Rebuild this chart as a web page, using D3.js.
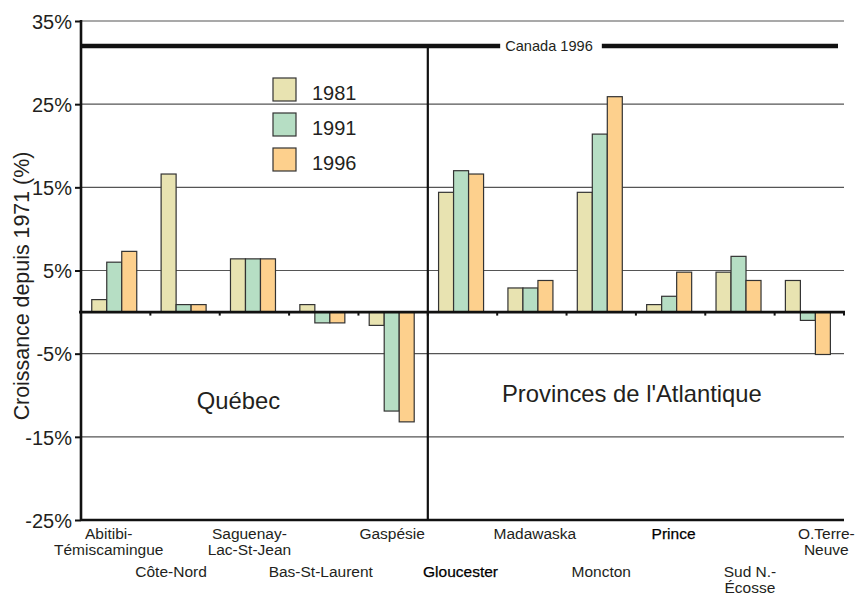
<!DOCTYPE html>
<html>
<head>
<meta charset="utf-8">
<script src="https://cdn.jsdelivr.net/npm/d3@7"></script>
<style>
  html, body { margin: 0; padding: 0; background: #fff; }
  svg { display: block; font-family: "Liberation Sans", Arial, sans-serif; }
</style>
</head>
<body>
<svg id="chart" width="859" height="596"></svg>
<script>
// ---- data ----
const categories = ["Abitibi-\nTémiscamingue", "Côte-Nord", "Saguenay-\nLac-St-Jean", "Bas-St-Laurent", "Gaspésie",
                    "Gloucester", "Madawaska", "Moncton", "Prince", "Sud N.-\nÉcosse", "O.Terre-\nNeuve"];
const seriesNames = ["1981", "1991", "1996"];
const v1981 = [1.5, 16.6, 6.4, 0.9, -1.6, 14.4, 2.9, 14.4, 0.9, 4.8, 3.8];
const v1991 = [6.0, 0.9, 6.4, -1.3, -11.9, 17.0, 2.9, 21.4, 1.9, 6.7, -1.0];
const v1996 = [7.3, 0.9, 6.4, -1.3, -13.2, 16.6, 3.8, 25.9, 4.8, 3.8, -5.1];
const canada1996 = 32;
const canadaLabel = "Canada 1996";
const yTicks = [35, 25, 15, 5, -5, -15, -25];
const regionNames = ["Québec", "Provinces de l'Atlantique"];
const yTitle = "Croissance depuis 1971 (%)";

// ---- layout ----
const colors = ["#E8E3B1", "#B6DEC4", "#FDD08D"];
const ink = "#231f20";
const pL = 81, pR = 844, pT = 21, pB = 520;
const labelNudge = [-7, -14, -5, -3, -1, -2, 3, 0, 3, 10, 17];
const boldLabels = ["Gloucester", "Prince"];

const svg = d3.select("#chart");
const y = d3.scaleLinear().domain([-25, 35]).range([pB, pT]);
const x0 = d3.scaleBand().domain(d3.range(categories.length)).range([pL, pR]).padding(0);
const bw = x0.bandwidth();
const x1 = d3.scaleBand().domain(seriesNames).range([bw * 0.155, bw * 0.155 + 45]).padding(0);

const series = [v1981, v1991, v1996];

// gridlines
svg.append("g").selectAll("line").data(yTicks.filter(t => t !== -25)).join("line")
  .attr("x1", pL).attr("x2", pR)
  .attr("y1", d => y(d)).attr("y2", d => y(d))
  .attr("stroke", "#555").attr("stroke-width", 1.1);

// bars
const groups = svg.append("g").selectAll("g").data(categories).join("g")
  .attr("transform", (d, i) => `translate(${x0(i)},0)`);
groups.selectAll("rect").data((d, i) => series.map((s, k) => ({k, v: s[i]}))).join("rect")
  .attr("x", d => x1(seriesNames[d.k]))
  .attr("width", x1.bandwidth())
  .attr("y", d => y(Math.max(0, d.v)))
  .attr("height", d => Math.abs(y(d.v) - y(0)))
  .attr("fill", d => colors[d.k])
  .attr("stroke", "#333").attr("stroke-width", 1.2);

// zero line with small ticks
svg.append("line").attr("x1", pL - 2).attr("x2", pR + 1)
  .attr("y1", y(0)).attr("y2", y(0)).attr("stroke", "#111").attr("stroke-width", 2.6);
svg.append("g").selectAll("line").data(d3.range(1, categories.length + 1)).join("line")
  .attr("x1", i => x0(0) + i * bw).attr("x2", i => x0(0) + i * bw)
  .attr("y1", y(0)).attr("y2", y(0) + 3.5)
  .attr("stroke", "#111").attr("stroke-width", 2);

// y axis
const yAxis = d3.axisLeft(y).tickValues(yTicks).tickSize(6).tickPadding(3).tickFormat(d => d + "%");
const ga = svg.append("g").attr("transform", `translate(${pL},0)`).call(yAxis);
ga.select(".domain").attr("stroke", "#111").attr("stroke-width", 2.6).attr("d", `M0,${pT - 1}V${pB + 1}`);
ga.selectAll(".tick line").attr("stroke", "#111").attr("stroke-width", 2);
ga.selectAll(".tick text").attr("fill", ink).style("font-size", "20px")
  .style("font-family", "'Liberation Sans', Arial, sans-serif").attr("dy", "0.36em");

// bottom line
svg.append("line").attr("x1", pL).attr("x2", pR).attr("y1", pB).attr("y2", pB)
  .attr("stroke", "#111").attr("stroke-width", 2.6);

// divider between regions
const divX = x0(5);
svg.append("line").attr("x1", divX).attr("x2", divX).attr("y1", y(canada1996)).attr("y2", pB)
  .attr("stroke", "#111").attr("stroke-width", 2.2);

// Canada reference line
const cy = y(canada1996);
const ct = svg.append("text").attr("x", 549).attr("y", cy + 5).attr("text-anchor", "middle")
  .attr("fill", ink).style("font-size", "14.6px").text(canadaLabel);
const bb = ct.node().getBBox();
svg.append("line").attr("x1", pL).attr("x2", bb.x - 5).attr("y1", cy).attr("y2", cy)
  .attr("stroke", "#111").attr("stroke-width", 4.6);
svg.append("line").attr("x1", bb.x + bb.width + 9).attr("x2", 838).attr("y1", cy).attr("y2", cy)
  .attr("stroke", "#111").attr("stroke-width", 4.6);

// legend
const lg = svg.append("g").attr("transform", "translate(273,78)");
const li = lg.selectAll("g").data(seriesNames).join("g").attr("transform", (d, i) => `translate(0,${i * 35})`);
li.append("rect").attr("width", 23).attr("height", 23).attr("fill", (d, i) => colors[i])
  .attr("stroke", "#333").attr("stroke-width", 1.2);
li.append("text").attr("x", 39).attr("y", 22).attr("fill", ink).style("font-size", "20px").text(d => d);

// region labels
svg.append("text").attr("x", (pL + divX) / 2 - 16).attr("y", 409).attr("text-anchor", "middle")
  .attr("fill", ink).style("font-size", "23.8px").text(regionNames[0]);
svg.append("text").attr("x", (divX + pR) / 2 - 4).attr("y", 402).attr("text-anchor", "middle")
  .attr("fill", ink).style("font-size", "23.8px").text(regionNames[1]);

// y title
svg.append("text").attr("transform", "translate(29,286) rotate(-90)").attr("text-anchor", "middle")
  .attr("fill", ink).style("font-size", "21.4px").text(yTitle);

// x labels (staggered)
const xl = svg.append("g").selectAll("text").data(categories).join("text")
  .attr("text-anchor", "middle")
  .attr("fill", d => boldLabels.includes(d) ? "#000" : ink)
  .attr("stroke", d => boldLabels.includes(d) ? "#000" : "none")
  .attr("stroke-width", 0.25)
  .style("font-size", "15.5px")
  .attr("transform", (d, i) => `translate(${x0(i) + bw / 2 + labelNudge[i]},${i % 2 === 0 ? 539 : 577})`);
xl.selectAll("tspan").data(d => d.split("\n")).join("tspan")
  .attr("x", 0).attr("y", (d, j) => j * 15.5).text(d => d);
</script>
</body>
</html>
